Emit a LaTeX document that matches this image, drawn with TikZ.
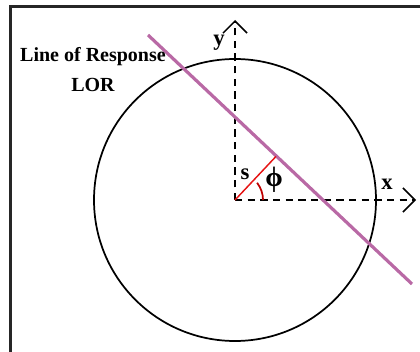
\documentclass[tikz,border=0pt]{standalone}
\usepackage{fontspec}
\setmainfont{Liberation Serif}
\usetikzlibrary{arrows.meta,calc}
\definecolor{LorPurple}{RGB}{185,105,165}
\definecolor{SegRed}{RGB}{230,20,20}
\definecolor{ArcRed}{RGB}{190,0,0}

\tikzset{
  axis/.style={dashed, dash pattern=on 5.5pt off 4pt, line width=1.1pt,
    -{Straight Barb[length=9pt,width=18pt,line width=1.1pt]}},
  lbl/.style={font=\bfseries\fontsize{17}{19}\selectfont, inner sep=0pt}
}

\begin{document}
\begin{tikzpicture}[x=0.75pt,y=-0.75pt]
  \clip (0,0) rectangle (420,352);
  \useasboundingbox (0,0) rectangle (420,352);
  % frame
  \draw[line width=1.6pt, black!85] (10.5,6.5) rectangle (440,370);
  % detector ring
  \coordinate (o) at (235,200);
  \draw[line width=1.3pt] (o) circle [radius=141];
  % axes
  \coordinate (xend) at (416,200);
  \coordinate (yend) at (235,20);
  \draw[axis] (o) -- (xend);
  \draw[axis] (o) -- (yend);
  \node[lbl] (xlbl) at (387,184) {x};
  \node[lbl] (ylbl) at (219,43) {y};
  % line of response
  \coordinate (foot) at ($(o)+(41,-43.6)$);
  \coordinate (lorA) at (148,35);
  \coordinate (lorB) at (412,284);
  \draw[LorPurple, line width=2.4pt] (lorA) -- (lorB);
  % distance s and angle phi
  \draw[SegRed, line width=1.1pt] (o) -- (foot);
  \draw[ArcRed, line width=1.3pt] ([xshift=28*0.75pt]o) arc [start angle=0, end angle=38, radius=28*0.75pt];
  \node[lbl] (slbl) at (245,174) {s};
  \node[lbl, font=\bfseries\fontsize{21}{23}\selectfont] (philbl) at (274,180) {ϕ};
  \node[lbl, font=\bfseries\fontsize{15}{17}\selectfont] (lortxt) at (93,57) {Line of Response};
  \node[lbl, font=\bfseries\fontsize{15}{17}\selectfont] (lorabbr) at (93,85) {LOR};
\end{tikzpicture}
\end{document}
